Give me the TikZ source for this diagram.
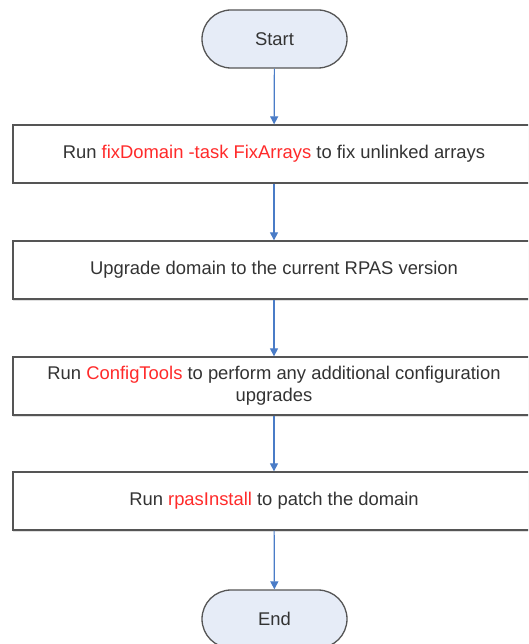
\documentclass[tikz,border=0pt]{standalone}
\usepackage{fontspec}
\setmainfont{Liberation Sans}
\usetikzlibrary{arrows.meta,shadows}
\definecolor{txt}{HTML}{333333}
\definecolor{hl}{HTML}{FF2A2A}
\definecolor{edge}{HTML}{555555}
\definecolor{ovalfill}{HTML}{E6ECF7}
\definecolor{arrowc}{HTML}{4A7CC7}
\tikzset{
  base/.style={draw=edge, line width=1.3pt, text=txt, font=\fontsize{18.4}{22}\selectfont, align=center, inner sep=0pt},
  terminal/.style={base, fill=ovalfill, rectangle, rounded corners=29pt, minimum width=145pt, minimum height=58pt},
  stepbox/.style={base, fill=white, rectangle, minimum width=522pt, minimum height=58pt,
    drop shadow={opacity=0.25, shadow xshift=0pt, shadow yshift=-1.5pt}},
  flow/.style={draw=arrowc, line width=1.2pt, -{Triangle[width=8pt,length=8pt]}}
}
\newcommand{\hlt}[1]{\textcolor{hl}{#1}}
\begin{document}
\begin{tikzpicture}[x=1pt,y=-1pt]
\useasboundingbox (0,0) rectangle (528,644);
\clip (0,0) rectangle (528,644);
\node[terminal] (start) at (274.5,39) {Start};
\node[stepbox] (b1) at (274,154) {Run \hlt{fixDomain -task FixArrays} to fix unlinked arrays};
\node[stepbox] (b2) at (274,270) {Upgrade domain to the current RPAS version};
\node[stepbox] (b3) at (274,386) {Run \hlt{ConfigTools} to perform any additional configuration\\upgrades};
\node[stepbox] (b4) at (274,501) {Run \hlt{rpasInstall} to patch the domain};
\node[terminal] (end) at (274.5,619) {End};
\draw[flow] (start) -- (b1);
\draw[flow] (b1) -- (b2);
\draw[flow] (b2) -- (b3);
\draw[flow] (b3) -- (b4);
\draw[flow] (b4) -- (end);
\end{tikzpicture}
\end{document}
